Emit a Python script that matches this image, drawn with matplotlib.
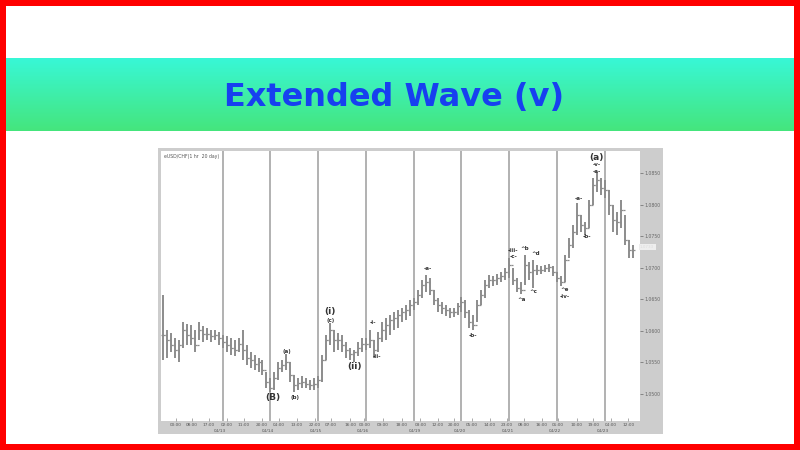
import numpy as np
import matplotlib.pyplot as plt
from matplotlib.patches import Rectangle

##################
## Data (USD/CHF, one bar every 2 hours)
##################
highs = [1.0657, 1.0601, 1.0597, 1.0589, 1.0586, 1.0614, 1.0611, 1.0609, 1.0601, 1.0614,
         1.0607, 1.0604, 1.0601, 1.0601, 1.0598, 1.0593, 1.0592, 1.0589, 1.0586, 1.0589,
         1.0601, 1.0578, 1.0567, 1.0562, 1.0557, 1.0554, 1.0535, 1.0525, 1.0535, 1.0551,
         1.0554, 1.0563, 1.0551, 1.0530, 1.0525, 1.0529, 1.0525, 1.0522, 1.0525, 1.0529,
         1.0562, 1.0593, 1.0612, 1.0601, 1.0597, 1.0593, 1.0582, 1.0573, 1.0570, 1.0582,
         1.0589, 1.0589, 1.0601, 1.0586, 1.0598, 1.0614, 1.0620, 1.0625, 1.0630, 1.0633,
         1.0636, 1.0641, 1.0649, 1.0652, 1.0665, 1.0680, 1.0688, 1.0684, 1.0665, 1.0652,
         1.0646, 1.0641, 1.0636, 1.0636, 1.0644, 1.0654, 1.0649, 1.0633, 1.0625, 1.0649,
         1.0665, 1.0680, 1.0688, 1.0687, 1.0690, 1.0693, 1.0700, 1.0715, 1.0700, 1.0684,
         1.0677, 1.0720, 1.0709, 1.0712, 1.0704, 1.0703, 1.0704, 1.0706, 1.0703, 1.0693,
         1.0687, 1.0720, 1.0747, 1.0768, 1.0802, 1.0783, 1.0772, 1.0807, 1.0842, 1.0852,
         1.0842, 1.0839, 1.0823, 1.0799, 1.0788, 1.0807, 1.0783, 1.0744, 1.0736]
lows = [1.0554, 1.0557, 1.0567, 1.0557, 1.0551, 1.0573, 1.0578, 1.0578, 1.0567, 1.0586,
        1.0582, 1.0586, 1.0582, 1.0586, 1.0578, 1.0573, 1.0567, 1.0562, 1.0560, 1.0567,
        1.0554, 1.0546, 1.0541, 1.0538, 1.0535, 1.0530, 1.0509, 1.0503, 1.0506, 1.0522,
        1.0535, 1.0538, 1.0519, 1.0503, 1.0506, 1.0509, 1.0509, 1.0506, 1.0506, 1.0509,
        1.0519, 1.0554, 1.0578, 1.0567, 1.0570, 1.0567, 1.0557, 1.0554, 1.0551, 1.0560,
        1.0567, 1.0570, 1.0573, 1.0557, 1.0567, 1.0582, 1.0586, 1.0593, 1.0601, 1.0604,
        1.0614, 1.0617, 1.0624, 1.0633, 1.0641, 1.0652, 1.0662, 1.0657, 1.0641, 1.0630,
        1.0627, 1.0624, 1.0620, 1.0622, 1.0625, 1.0630, 1.0620, 1.0604, 1.0601, 1.0614,
        1.0641, 1.0652, 1.0668, 1.0671, 1.0673, 1.0677, 1.0680, 1.0684, 1.0673, 1.0662,
        1.0658, 1.0673, 1.0680, 1.0668, 1.0688, 1.0690, 1.0693, 1.0693, 1.0687, 1.0677,
        1.0671, 1.0677, 1.0715, 1.0731, 1.0752, 1.0757, 1.0752, 1.0763, 1.0799, 1.0820,
        1.0815, 1.0810, 1.0783, 1.0757, 1.0752, 1.0763, 1.0736, 1.0715, 1.0715]
closes = [1.0593, 1.0586, 1.0578, 1.0570, 1.0578, 1.0601, 1.0593, 1.0589, 1.0578, 1.0601,
          1.0595, 1.0595, 1.0592, 1.0593, 1.0589, 1.0582, 1.0578, 1.0573, 1.0570, 1.0579,
          1.0570, 1.0557, 1.0554, 1.0548, 1.0551, 1.0538, 1.0519, 1.0509, 1.0525, 1.0541,
          1.0546, 1.0551, 1.0530, 1.0514, 1.0517, 1.0519, 1.0516, 1.0514, 1.0516, 1.0522,
          1.0554, 1.0586, 1.0601, 1.0586, 1.0586, 1.0578, 1.0570, 1.0563, 1.0567, 1.0573,
          1.0579, 1.0579, 1.0586, 1.0570, 1.0589, 1.0601, 1.0609, 1.0617, 1.0620, 1.0625,
          1.0630, 1.0633, 1.0641, 1.0646, 1.0657, 1.0673, 1.0677, 1.0665, 1.0649, 1.0641,
          1.0636, 1.0633, 1.0630, 1.0630, 1.0639, 1.0646, 1.0630, 1.0614, 1.0609, 1.0641,
          1.0657, 1.0673, 1.0680, 1.0680, 1.0684, 1.0687, 1.0693, 1.0704, 1.0680, 1.0668,
          1.0665, 1.0704, 1.0693, 1.0696, 1.0696, 1.0696, 1.0700, 1.0701, 1.0693, 1.0684,
          1.0677, 1.0712, 1.0736, 1.0757, 1.0783, 1.0768, 1.0763, 1.0799, 1.0831, 1.0839,
          1.0826, 1.0823, 1.0799, 1.0776, 1.0772, 1.0791, 1.0744, 1.0728, 1.0728]
bar_hours = np.arange(len(closes)) * 2
opens = [closes[0]] + closes[:-1]

day_breaks = [30, 54, 78, 102, 126, 150, 174, 198, 222]

time_ticks = [6.4, 14.4, 23.1, 32.0, 40.7, 49.6, 58.1, 67.3, 76.2, 84.4, 94.0, 101.2, 110.6,
              119.9, 129.4, 138.2, 146.2, 155.1, 164.3, 172.7, 181.4, 190.3, 198.6, 207.9,
              216.3, 225.1, 233.9]
time_labels = ['00:00', '08:00', '17:00', '02:00', '11:00', '20:00', '04:00', '13:00', '22:00',
               '07:00', '16:00', '00:00', '09:00', '18:00', '03:00', '12:00', '20:00', '05:00',
               '14:00', '23:00', '08:00', '16:00', '01:00', '10:00', '19:00', '04:00', '12:00']
date_ticks = [28.6, 52.6, 76.7, 100.6, 126.6, 149.2, 173.5, 197.1, 221.2]
date_labels = ['04/13', '04/14', '04/15', '04/16', '04/19', '04/20', '04/21', '04/22', '04/23']

price_ticks = [1.0500, 1.0550, 1.0600, 1.0650, 1.0700, 1.0750, 1.0800, 1.0850]
last_price = 1.0733

# wave counts: (text, hour, price)
big_labels = [('(B)', 55.3, 1.0495), ('(i)', 84.0, 1.0631), ('(ii)', 96.0, 1.0544),
              ('(a)', 218.0, 1.0875)]
small_labels = [('(a)', 62.3, 1.0567), ('(b)', 66.3, 1.0495), ('(c)', 84.0, 1.0616),
                ('-i-', 105.5, 1.0614), ('-ii-', 107.5, 1.0559), ('-a-', 133.0, 1.0698),
                ('-b-', 156.0, 1.0593), ('-iii-', 176.0, 1.0728), ('-c-', 176.0, 1.0717),
                ('^a', 180.0, 1.0650), ('^b', 182.0, 1.0731), ('^c', 186.0, 1.0663),
                ('^d', 187.5, 1.0722), ('^e', 202.0, 1.0665), ('-iv-', 202.0, 1.0654),
                ('-a-', 209.0, 1.0809), ('-b-', 213.0, 1.0750), ('-v-', 218.0, 1.0863),
                ('-a-', 218.0, 1.0853)]

title = 'Extended Wave (v)'

##################
## Slide layout
##################
W, H = 800, 450


def px_rect(x0, y0, x1, y1):
    return [x0 / W, 1 - y1 / H, (x1 - x0) / W, (y1 - y0) / H]


fig = plt.figure(figsize=(8, 4.5), dpi=100)
fig.patch.set_facecolor('white')

# green banner with vertical gradient
ban = fig.add_axes(px_rect(0, 58, 800, 131))
top = np.array([0.22, 0.97, 0.84])
bot = np.array([0.27, 0.90, 0.49])
grad = np.linspace(0, 1, 64)[:, None, None] * (bot - top) + top
ban.imshow(np.repeat(grad, 4, axis=1), aspect='auto', interpolation='bilinear')
ban.axis('off')
fig.text(0.4925, 0.784, title, ha='center', va='center', fontsize=23,
         fontweight='bold', color='#1740F0', family='DejaVu Sans')

##################
## Price chart
##################
frame = fig.add_axes(px_rect(158, 148, 663, 434))
frame.set_facecolor('#cdcdcd')
frame.set_xticks([])
frame.set_yticks([])
for s in frame.spines.values():
    s.set_visible(False)

ax = fig.add_axes(px_rect(161, 151, 640, 421))
ax.set_facecolor('white')
for h in day_breaks:
    ax.axvline(h, color='#ababab', linewidth=1.3, zorder=1)

bar_col = '#8c8c8c'
ax.vlines(bar_hours, lows, highs, color=bar_col, linewidth=1.4, zorder=2)
ax.hlines(opens, bar_hours - 1.0, bar_hours, color=bar_col, linewidth=0.9, zorder=2)
ax.hlines(closes, bar_hours, bar_hours + 1.0, color=bar_col, linewidth=0.9, zorder=2)

for txt, h, p in big_labels:
    ax.text(h, p, txt, ha='center', va='center', fontsize=6.5, fontweight='bold',
            color='#333333', zorder=3)
for txt, h, p in small_labels:
    ax.text(h, p, txt, ha='center', va='center', fontsize=4, fontweight='bold',
            color='#333333', zorder=3)

ax.text(0.006, 0.99, 'eUSD/CHF(1 hr  20 day)', transform=ax.transAxes, ha='left',
        va='top', fontsize=3.3, color='#555555')

ax.set_xlim(-1, 239.7)
ax.set_ylim(1.04573, 1.08848)

ax.yaxis.tick_right()
ax.set_yticks(price_ticks)
ax.set_yticklabels(['%.4f' % p for p in price_ticks])
ax.tick_params(axis='y', direction='out', length=2, width=0.6, color='#777777',
               labelsize=3.3, labelcolor='#666666', pad=1.5)
ax.text(1.0, last_price, '1.0733', transform=ax.get_yaxis_transform(), ha='left',
        va='center', fontsize=3, color='#dddddd',
        bbox=dict(boxstyle='square,pad=0.3', facecolor='#eeeeee', edgecolor='none'))

ax.set_xticks(time_ticks)
ax.set_xticklabels(time_labels)
ax.tick_params(axis='x', direction='in', length=2, width=0.5, color='#888888',
               labelsize=3.1, labelcolor='#555555', pad=1.5)
for h, d in zip(date_ticks, date_labels):
    ax.text(h, -0.03, d, transform=ax.get_xaxis_transform(), ha='center', va='top',
            fontsize=3.1, color='#555555')
for s in ax.spines.values():
    s.set_visible(False)

# red slide border
fig.patches.append(Rectangle((3 / W, 3 / H), 1 - 6 / W, 1 - 6 / H, transform=fig.transFigure,
                             fill=False, edgecolor='#ff0000', linewidth=6 * 72 / 100,
                             zorder=10))

fig.savefig('out.png', dpi=100)
